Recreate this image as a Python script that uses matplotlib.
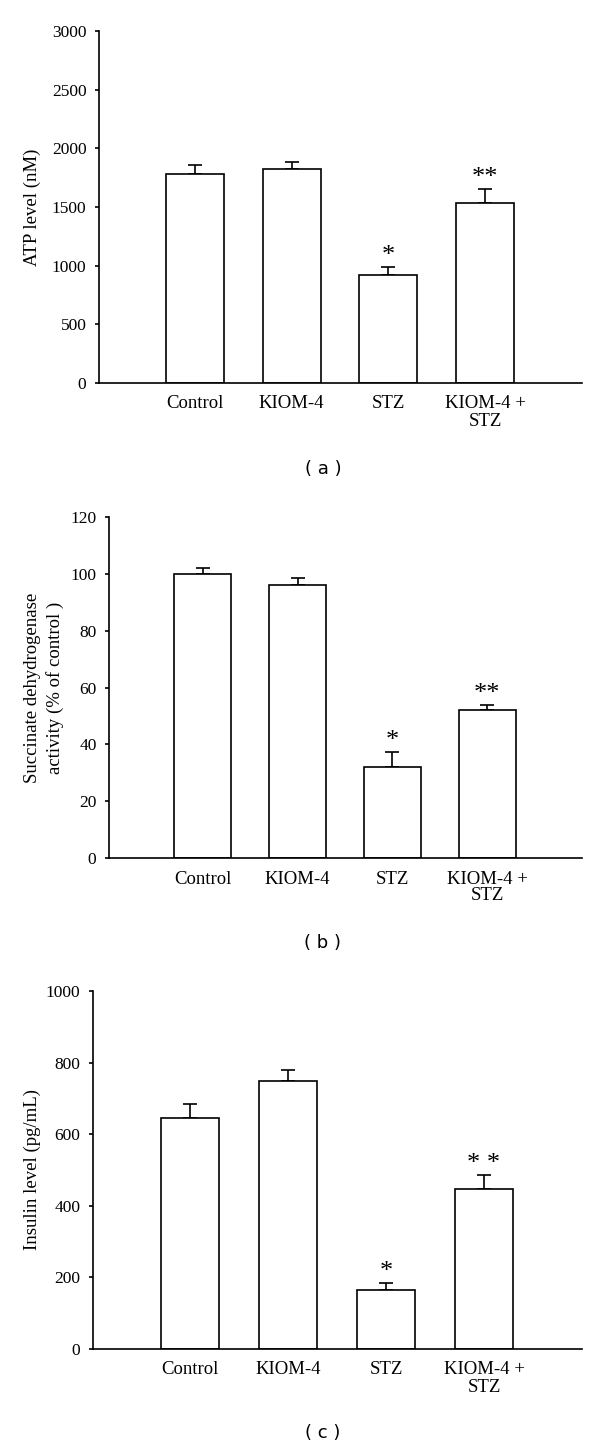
import matplotlib.pyplot as plt
import numpy as np

W, H = 600, 1448

groups = ["Control", "KIOM-4", "STZ", "KIOM-4 +\nSTZ"]

atp_mean = [1780, 1820, 920, 1530]
atp_err = [80, 60, 70, 120]
atp_marks = ["", "", "*", "**"]

sdh_mean = [100, 96, 32, 52]
sdh_err = [2, 2.7, 5.3, 2]
sdh_marks = ["", "", "*", "**"]

ins_mean = [645, 750, 165, 448]
ins_err = [40, 30, 18, 37]
ins_marks = ["", "", "*", "* *"]

panels = [
    # values, errors, stars, ylabel, ylim, yticks, (left, top, right, bottom px), ylabel x px, tag, tag y px
    (atp_mean, atp_err, atp_marks, "ATP level (nM)", 3000, np.arange(0, 3001, 500),
     (99, 31, 582, 383), 32, "( a )", 469),
    (sdh_mean, sdh_err, sdh_marks, "Succinate dehydrogenase\nactivity (% of control )", 120,
     np.arange(0, 121, 20), (109, 517, 582, 858), 44, "( b )", 943),
    (ins_mean, ins_err, ins_marks, "Insulin level (pg/mL)", 1000, np.arange(0, 1001, 200),
     (93, 991, 582, 1349), 32, "( c )", 1433),
]

serif = ["Liberation Serif", "DejaVu Serif"]

fig = plt.figure(figsize=(W / 100, H / 100), dpi=100)

for vals, errs, marks, ylabel, ymax, yticks, box, ylx, tag, tag_y in panels:
    l, t, r, b = box
    ax = fig.add_axes([l / W, 1 - b / H, (r - l) / W, (b - t) / H])
    x = np.arange(len(groups))
    ax.bar(x, vals, width=0.6, color="white", edgecolor="black", linewidth=1.2, zorder=2)
    ax.errorbar(x, vals, yerr=[np.zeros(len(errs)), errs], fmt="none", ecolor="black",
                elinewidth=1.2, capsize=5, capthick=1.2, zorder=1)
    for xi, v, e, m in zip(x, vals, errs, marks):
        if m:
            ax.text(xi, v + e, m, ha="center", va="bottom",
                    fontsize=19, family=serif)
    ax.set_xlim(-0.99, 4.0)
    ax.set_ylim(0, ymax)
    ax.set_yticks(yticks)
    ax.set_yticklabels([str(v) for v in yticks], family=serif, fontsize=12.5)
    ax.set_xticks(x)
    ax.set_xticklabels(groups, family=serif, fontsize=13.5, linespacing=1.0)
    ax.tick_params(axis="x", length=0, pad=9)
    ax.tick_params(axis="y", length=3, width=1.2, direction="out", pad=6)
    for s in ("top", "right"):
        ax.spines[s].set_visible(False)
    for s in ("left", "bottom"):
        ax.spines[s].set_linewidth(1.2)
    fig.text(ylx / W, 1 - ((t + b) / 2) / H, ylabel, rotation=90, ha="center", va="center",
             family=serif, fontsize=13.5, linespacing=1.3)
    fig.text(323 / W, 1 - tag_y / H, tag, ha="center", va="center",
             family="DejaVu Sans", fontsize=13)

fig.savefig("out.png", dpi=100)
